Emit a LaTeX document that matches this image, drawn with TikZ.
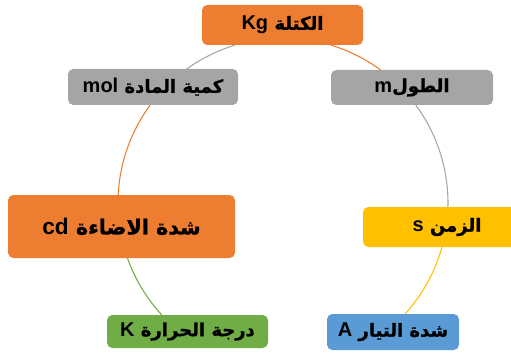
\documentclass[tikz,border=0pt]{standalone}
\usepackage{fontspec}
\usetikzlibrary{calc}
\TeXXeTstate=1
\newfontfamily\arabicfont[Script=Arabic,BoldFeatures={FakeBold=1.2}]{DejaVu Sans}
\newfontfamily\latinfont{Liberation Sans}
\newcommand{\lt}[1]{\beginL{\latinfont\bfseries\fontsize{15}{17}\selectfont #1}\endL}
\definecolor{cOrange}{HTML}{ED7D31}
\definecolor{cGray}{HTML}{A5A5A5}
\definecolor{cYellow}{HTML}{FFC000}
\definecolor{cBlue}{HTML}{5B9BD5}
\definecolor{cGreen}{HTML}{70AD47}
\begin{document}
\begin{tikzpicture}[x=0.75pt,y=-0.75pt,
  box/.style 2 args={rounded corners=4pt, draw=none, minimum width=#1*0.75pt, minimum height=#2*0.75pt,
     inner sep=0pt, font=\arabicfont\bfseries\fontsize{13.5}{15}\selectfont, text=black},
  arcline/.style={line width=0.8pt}]
\useasboundingbox (0,0) rectangle (511,360);
\coordinate (c) at (283,203);
% arcs
\coordinate (a1) at ($(c)+(-73.2:165)$);
\coordinate (a2) at ($(c)+(-36.4:165)$);
\coordinate (a3) at ($(c)+(15.5:165)$);
\coordinate (a4) at ($(c)+(74.5:165)$);
\coordinate (a5) at ($(c)+(137.3:165)$);
\coordinate (a6) at ($(c)+(182.8:165)$);
\coordinate (a7) at ($(c)+(234.3:165)$);
\draw[arcline,cOrange] (a1) arc[start angle=-73.2, end angle=-53.7, radius=165];
\draw[arcline,cGray] (a2) arc[start angle=-36.4, end angle=1.4, radius=165];
\draw[arcline,cYellow] (a3) arc[start angle=15.5, end angle=42.7, radius=165];
\draw[arcline,cBlue] (a4) arc[start angle=74.5, end angle=96.3, radius=165];
\draw[arcline,cGreen] (a5) arc[start angle=137.3, end angle=160.5, radius=165];
\draw[arcline,cOrange] (a6) arc[start angle=182.8, end angle=216.4, radius=165];
\draw[arcline,cGray] (a7) arc[start angle=234.3, end angle=253.2, radius=165];
% boxes
\node[box={161}{40}, fill=cOrange] (kg) at (282.5,25) {\beginR الكتلة \lt{Kg}\endR};
\node[box={170}{36}, fill=cGray] (mol) at (153,87) {\beginR كمية المادة \lt{mol}\endR};
\node[box={162}{35}, fill=cGray] (len) at (412,87.5) {\beginR الطول\lt{m}\endR};
\node[box={227}{63}, fill=cOrange, font=\arabicfont\bfseries\fontsize{15.5}{17}\selectfont] (cd) at (121.5,226.5) {\beginR شدة الاضاءة \beginL{\latinfont\bfseries\fontsize{17}{19}\selectfont cd}\endL\endR};
\node[box={168}{40}, fill=cYellow] (sec) at (447,227) {\beginR الزمن \lt{s}\endR};
\node[box={161}{33}, fill=cGreen] (kel) at (187.5,331.5) {\beginR درجة الحرارة \lt{K}\endR};
\node[box={132}{36}, fill=cBlue] (amp) at (393,332) {\beginR شدة التيار \lt{A}\endR};
\end{tikzpicture}
\end{document}
